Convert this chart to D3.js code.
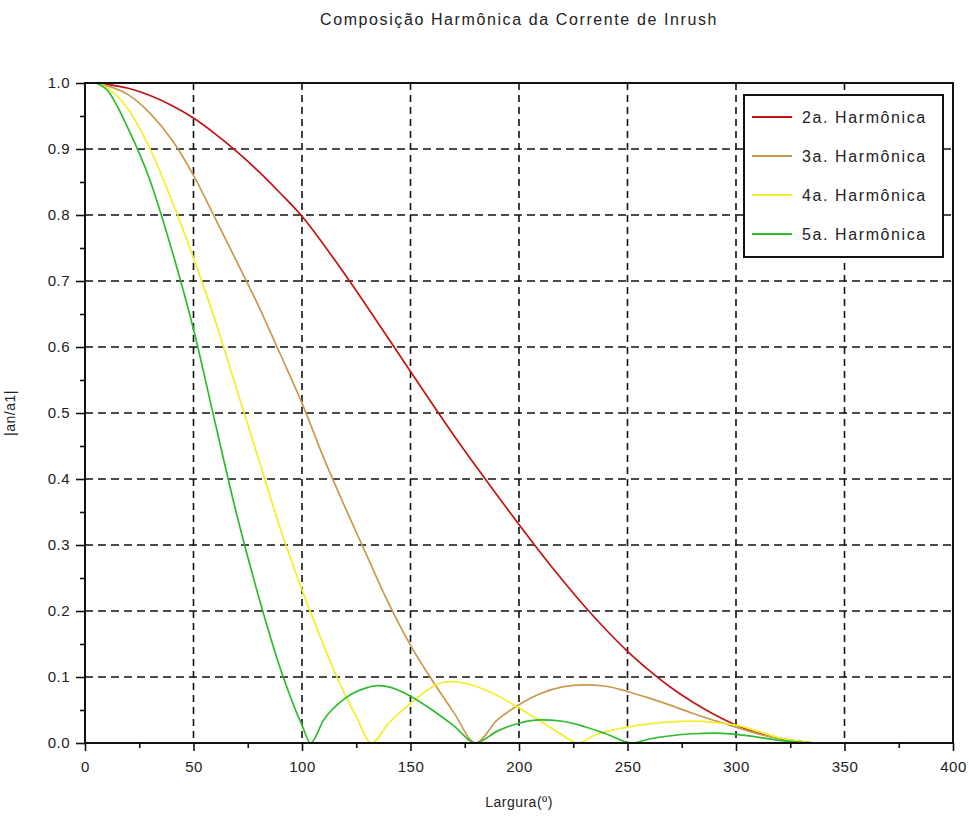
<!DOCTYPE html>
<html>
<head>
<meta charset="utf-8">
<script src="https://cdn.jsdelivr.net/npm/d3@7"></script>
<style>
  body { margin: 0; background: #fff; }
  svg { font-family: "Liberation Sans", Arial, sans-serif; }
</style>
</head>
<body>
<svg width="969" height="820"></svg>
<script>
// data
var titulo = "Composição Harmônica da Corrente de Inrush";
var rotuloX = "Largura(º)";
var rotuloY = "|an/a1|";
var nomes = ["2a. Harmônica", "3a. Harmônica", "4a. Harmônica", "5a. Harmônica"];
var cores = ["#c41212", "#c99a4c", "#f2ee2a", "#2cbc2c"];

var ticksX = [0, 50, 100, 150, 200, 250, 300, 350, 400];
var ticksY = [0, 0.1, 0.2, 0.3, 0.4, 0.5, 0.6, 0.7, 0.8, 0.9, 1.0];

var largura2 = [5, 10, 20, 30, 40, 50, 60, 70, 80, 90, 100, 110, 120, 130, 140, 150, 160, 170, 180, 190, 200, 210, 220, 230, 240, 250, 260, 270, 280, 290, 300, 310, 320, 330, 336];
var harm2 = [1.0, 0.998, 0.992, 0.981, 0.966, 0.947, 0.923, 0.896, 0.866, 0.833, 0.798, 0.755, 0.709, 0.661, 0.612, 0.563, 0.514, 0.466, 0.42, 0.375, 0.331, 0.288, 0.247, 0.208, 0.172, 0.139, 0.11, 0.084, 0.062, 0.043, 0.027, 0.015, 0.007, 0.002, 0.0];

var largura3 = [5, 10, 20, 30, 40, 50, 60, 70, 80, 90, 100, 110, 120, 130, 140, 150, 160, 170, 180, 190, 200, 210, 220, 230, 240, 250, 260, 270, 280, 290, 300, 310, 320, 330, 336];
var harm3 = [1.0, 0.996, 0.982, 0.954, 0.914, 0.86, 0.795, 0.729, 0.662, 0.589, 0.515, 0.432, 0.356, 0.283, 0.211, 0.148, 0.095, 0.046, 0.0, 0.035, 0.058, 0.075, 0.085, 0.088, 0.086, 0.078, 0.068, 0.057, 0.045, 0.034, 0.024, 0.014, 0.007, 0.002, 0.0];

var largura4 = [5, 10, 20, 30, 40, 50, 60, 70, 80, 90, 100, 110, 115, 120, 125, 132, 140, 150, 160, 165, 170, 180, 190, 200, 210, 220, 227, 235, 250, 260, 270, 280, 290, 300, 310, 320, 330, 336];
var harm4 = [1.0, 0.993, 0.96, 0.9, 0.822, 0.735, 0.64, 0.535, 0.43, 0.325, 0.232, 0.148, 0.108, 0.072, 0.04, 0.0, 0.03, 0.06, 0.085, 0.092, 0.093, 0.086, 0.072, 0.053, 0.033, 0.012, 0.0, 0.012, 0.024, 0.029, 0.032, 0.033, 0.031, 0.027, 0.018, 0.008, 0.002, 0.0];

var largura5 = [5, 10, 20, 30, 40, 50, 60, 70, 80, 90, 100, 104, 110, 120, 130, 135, 140, 150, 160, 170, 180, 190, 200, 210, 220, 230, 240, 252, 260, 270, 280, 290, 300, 310, 320, 330, 336];
var harm5 = [1.0, 0.99, 0.93, 0.852, 0.747, 0.627, 0.485, 0.345, 0.222, 0.113, 0.027, 0.0, 0.035, 0.068, 0.084, 0.087, 0.085, 0.071, 0.05, 0.026, 0.0, 0.018, 0.03, 0.035, 0.033, 0.025, 0.014, 0.0, 0.006, 0.011, 0.014, 0.015, 0.013, 0.009, 0.004, 0.001, 0.0];

var series = [
    { nome: nomes[0], cor: cores[0], x: largura2, y: harm2 },
    { nome: nomes[1], cor: cores[1], x: largura3, y: harm3 },
    { nome: nomes[2], cor: cores[2], x: largura4, y: harm4 },
    { nome: nomes[3], cor: cores[3], x: largura5, y: harm5 }
];

var svg = d3.select("svg"),
    margin = { top: 83, right: 16, bottom: 77, left: 85 },
    width = +svg.attr("width") - margin.left - margin.right,
    height = +svg.attr("height") - margin.top - margin.bottom,
    g = svg.append("g").attr("transform", "translate(" + margin.left + "," + margin.top + ")");

var x = d3.scaleLinear().domain([0, 400]).range([0, width]);
var y = d3.scaleLinear().domain([0, 1]).range([height, 0]);

// grid
g.append("g").attr("class", "grid-x")
    .selectAll("line")
    .data(ticksX.slice(1, -1))
    .enter().append("line")
    .attr("x1", function (d) { return x(d); })
    .attr("x2", function (d) { return x(d); })
    .attr("y1", 0)
    .attr("y2", height)
    .attr("stroke", "#111")
    .attr("stroke-width", 1.6)
    .attr("stroke-dasharray", "7,5");

g.append("g").attr("class", "grid-y")
    .selectAll("line")
    .data(ticksY.slice(1, -1))
    .enter().append("line")
    .attr("x1", 0)
    .attr("x2", width)
    .attr("y1", function (d) { return y(d); })
    .attr("y2", function (d) { return y(d); })
    .attr("stroke", "#111")
    .attr("stroke-width", 1.6)
    .attr("stroke-dasharray", "8,5");

// curves
var line = d3.line()
    .x(function (d) { return x(d[0]); })
    .y(function (d) { return y(d[1]); })
    .curve(d3.curveMonotoneX);

g.append("g").attr("class", "curves")
    .selectAll("path")
    .data(series)
    .enter().append("path")
    .attr("fill", "none")
    .attr("stroke", function (d) { return d.cor; })
    .attr("stroke-width", 1.7)
    .attr("d", function (d) { return line(d.x.map(function (v, i) { return [v, d.y[i]]; })); });

// box
g.append("rect")
    .attr("width", width)
    .attr("height", height)
    .attr("fill", "none")
    .attr("stroke", "#111")
    .attr("stroke-width", 2);

// axes
g.append("g")
    .attr("transform", "translate(0," + height + ")")
    .call(d3.axisBottom(x).tickValues(ticksX).tickFormat(d3.format("d")).tickSize(8).tickPadding(10));

g.append("g")
    .attr("transform", "translate(0," + height + ")")
    .call(d3.axisBottom(x).tickValues(d3.range(25, 400, 50)).tickFormat("").tickSize(5));

g.append("g")
    .call(d3.axisLeft(y).tickValues(ticksY).tickFormat(d3.format(".1f")).tickSize(9).tickPadding(6));

g.append("g")
    .call(d3.axisLeft(y).tickValues(d3.range(0.05, 1, 0.1)).tickFormat("").tickSize(5));

g.selectAll(".domain").remove();
g.selectAll(".tick line").attr("stroke", "#111").attr("stroke-width", 1.6);
g.selectAll(".tick text")
    .attr("fill", "#222")
    .attr("font-size", 15)
    .style("letter-spacing", "0.5px");

// title and labels
svg.append("text")
    .attr("x", margin.left + width / 2)
    .attr("y", 25)
    .attr("text-anchor", "middle")
    .attr("font-size", 16)
    .attr("fill", "#222")
    .style("letter-spacing", "1.6px")
    .text(titulo);

svg.append("text")
    .attr("x", margin.left + width / 2)
    .attr("y", 807)
    .attr("text-anchor", "middle")
    .attr("font-size", 14)
    .attr("fill", "#222")
    .style("letter-spacing", "0.5px")
    .text(rotuloX);

svg.append("text")
    .attr("transform", "translate(15," + (margin.top + height / 2) + ") rotate(-90)")
    .attr("text-anchor", "middle")
    .attr("font-size", 14)
    .attr("fill", "#222")
    .style("letter-spacing", "0.5px")
    .text(rotuloY);

// legend
var legends = svg.append("g")
    .attr("class", "legends")
    .attr("transform", "translate(744,95)");

legends.append("rect")
    .attr("width", 199)
    .attr("height", 162)
    .attr("fill", "#fff")
    .attr("stroke", "#111")
    .attr("stroke-width", 2);

var legend = legends.selectAll("g")
    .data(series)
    .enter().append("g")
    .attr("transform", function (d, i) { return "translate(0," + (22 + i * 39) + ")"; });

legend.append("line")
    .attr("x1", 8)
    .attr("x2", 48)
    .attr("stroke", function (d) { return d.cor; })
    .attr("stroke-width", 1.8);

legend.append("text")
    .attr("x", 58)
    .attr("dy", "0.35em")
    .attr("font-size", 16)
    .attr("fill", "#222")
    .style("letter-spacing", "1.6px")
    .text(function (d) { return d.nome; });
</script>
</body>
</html>
